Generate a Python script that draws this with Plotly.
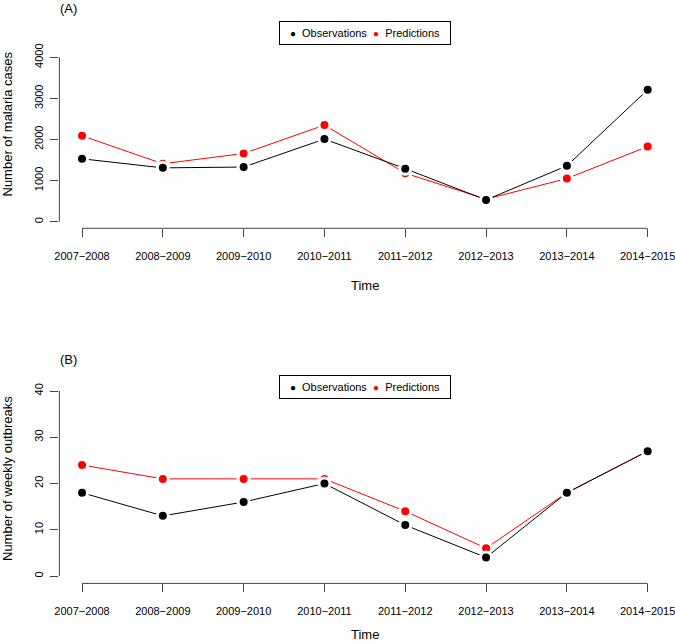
import plotly.graph_objects as go

# ---- data ----
seasons = ["2007−2008", "2008−2009", "2009−2010", "2010−2011",
           "2011−2012", "2012−2013", "2013−2014", "2014−2015"]
cases_obs = [1530, 1310, 1330, 2010, 1290, 530, 1360, 3210]
cases_pred = [2090, 1410, 1660, 2350, 1180, 550, 1050, 1830]
outbreaks_obs = [18, 13, 16, 20, 11, 4, 18, 27]
outbreaks_pred = [24, 21, 21, 21, 14, 6, 18, 27]
cases_ticks = [0, 1000, 2000, 3000, 4000]
outbreak_ticks = [0, 10, 20, 30, 40]

W, H = 675, 644
FONT = "Liberation Sans, Arial, sans-serif"


def px(x):
    return x / W


def py(y):
    return 1 - y / H


xpos = list(range(1, len(seasons) + 1))

fig = go.Figure()


def add_series(xa, ya, vals, color):
    fig.add_trace(go.Scatter(
        x=xpos, y=vals, xaxis=xa, yaxis=ya, mode="lines+markers",
        line=dict(color=color, width=1),
        marker=dict(color=color, size=11, line=dict(color="white", width=3)),
        showlegend=False, hoverinfo="skip"))


add_series("x", "y", cases_pred, "#ff0000")
add_series("x", "y", cases_obs, "black")
add_series("x2", "y2", outbreaks_pred, "#ff0000")
add_series("x2", "y2", outbreaks_obs, "black")

xdom = [px(59.4), px(670.3)]
ax_common = dict(showgrid=False, zeroline=False, showline=False, ticks="outside",
                 ticklen=8, tickwidth=1, tickcolor="#444", automargin=False,
                 ticklabeloverflow="allow",
                 tickfont=dict(family=FONT, size=11, color="black"))

fig.update_layout(
    width=W, height=H, margin=dict(l=0, r=0, t=0, b=0),
    paper_bgcolor="white", plot_bgcolor="white",
    font=dict(family=FONT, color="black"),
    showlegend=False,
    xaxis=dict(domain=xdom, range=[0.72, 8.28], anchor="y",
               tickvals=xpos, ticktext=seasons, ticklabelstandoff=9, **ax_common),
    yaxis=dict(domain=[py(228.3), py(50.7)], range=[-160, 4160], anchor="x",
               tickvals=cases_ticks, tickangle=-90, ticklabelstandoff=3, **ax_common),
    xaxis2=dict(domain=xdom, range=[0.72, 8.28], anchor="y2",
                tickvals=xpos, ticktext=seasons, ticklabelstandoff=9, **ax_common),
    yaxis2=dict(domain=[py(583.4), py(383.6)], range=[-1.6, 41.6], anchor="x2",
                tickvals=outbreak_ticks, tickangle=-90, ticklabelstandoff=3, **ax_common),
)

# R-style axis lines spanning only the tick range
line_style = dict(color="#444", width=1)
fig.add_shape(type="line", xref="x domain", yref="y", x0=0, x1=0,
              y0=cases_ticks[0], y1=cases_ticks[-1], line=line_style)
fig.add_shape(type="line", xref="x", yref="y domain", x0=xpos[0], x1=xpos[-1],
              y0=0, y1=0, line=line_style)
fig.add_shape(type="line", xref="x2 domain", yref="y2", x0=0, x1=0,
              y0=outbreak_ticks[0], y1=outbreak_ticks[-1], line=line_style)
fig.add_shape(type="line", xref="x2", yref="y2 domain", x0=xpos[0], x1=xpos[-1],
              y0=0, y1=0, line=line_style)

txt = dict(family=FONT, size=13, color="black")
annos = [
    dict(text="(A)", x=px(68.5), y=py(8)),
    dict(text="(B)", x=px(68.5), y=py(360)),
    dict(text="Time", x=px(365), y=py(285)),
    dict(text="Time", x=px(365), y=py(634)),
    dict(text="Number of malaria cases", x=px(7), y=py(124.5), textangle=-90),
    dict(text="Number of weekly outbreaks", x=px(7), y=py(479), textangle=-90),
]
for a in annos:
    fig.add_annotation(xref="paper", yref="paper", showarrow=False,
                       xanchor="center", yanchor="middle", font=txt, **a)

leg_text = ("<span style='font-size:10px'>●</span>&nbsp;&nbsp;Observations&nbsp;&nbsp;"
            "<span style='color:#ff0000;font-size:10px'>●</span>&nbsp;&nbsp;Predictions")
for yc in (32.7, 387):
    fig.add_annotation(xref="paper", yref="paper", showarrow=False,
                       x=px(365), y=py(yc), xanchor="center", yanchor="middle",
                       text=leg_text, font=dict(family=FONT, size=11, color="black"),
                       bordercolor="black", borderwidth=1, borderpad=0,
                       width=170, height=22, align="center")

fig.write_html("out.html", config={"displayModeBar": False},
               post_script="document.body.style.margin='0';document.body.style.overflow='hidden';")
